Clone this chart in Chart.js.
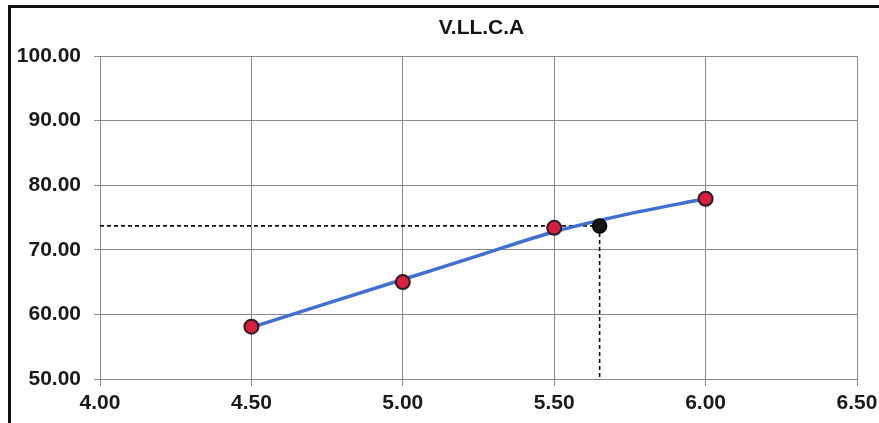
<!DOCTYPE html>
<html>
<head>
<meta charset="utf-8">
<script src="https://cdn.jsdelivr.net/npm/chart.js@4"></script>
<style>
  html, body { margin: 0; padding: 0; background: #fff; }
  #wrap { position: relative; width: 879px; height: 423px; overflow: hidden; }
  #frame { position: absolute; left: 8px; top: 5px; right: -4px; bottom: -10px;
           border-left: 3px solid #111; border-top: 3px solid #111; }
  #holder { position: absolute; left: 0; top: 0; width: 879px; height: 423px; }
</style>
</head>
<body>
<div id="wrap">
  <div id="frame"></div>
  <div id="holder"><canvas id="chart" width="879" height="423"></canvas></div>
</div>
<script>
// Measured points
const measuredX = [4.5, 5.0, 5.5, 6.0];
const measuredY = [58.1, 65.0, 73.4, 77.9];

// Smooth trend curve through the measurements
const trendX = [4.5, 4.75, 5.0, 5.25, 5.5, 5.75, 6.0];
const trendY = [58.0, 61.7, 65.4, 69.1, 72.8, 75.6, 77.9];

// Read-off point and its guide lines
const readX = 5.65;
const readY = 73.7;

const xTicks = [4.0, 4.5, 5.0, 5.5, 6.0, 6.5];
const yTicks = [50, 60, 70, 80, 90, 100];

const chartTitle = 'V.LL.C.A';

const toPoints = (xs, ys) => xs.map((x, i) => ({ x: x, y: ys[i] }));

const tickFont = { family: 'Liberation Sans, Arial, sans-serif', size: 21, weight: 'bold' };

// Title centred over the plotting area
const plotTitle = {
  id: 'plotTitle',
  afterDraw(chart) {
    const { ctx, chartArea } = chart;
    ctx.save();
    ctx.font = 'bold 21px "Liberation Sans", Arial, sans-serif';
    ctx.fillStyle = '#151515';
    ctx.textAlign = 'center';
    ctx.textBaseline = 'middle';
    ctx.fillText(chartTitle, (chartArea.left + chartArea.right) / 2 + 3, 28);
    ctx.restore();
  }
};

new Chart(document.getElementById('chart'), {
  type: 'scatter',
  data: {
    datasets: [
      {
        label: 'guide-h',
        data: [{ x: xTicks[0], y: readY }, { x: readX, y: readY }],
        showLine: true, borderColor: '#111', borderWidth: 1.6, borderDash: [4, 3],
        pointRadius: 0, order: 5
      },
      {
        label: 'guide-v',
        data: [{ x: readX, y: readY }, { x: readX, y: yTicks[0] }],
        showLine: true, borderColor: '#111', borderWidth: 1.6, borderDash: [4, 3],
        pointRadius: 0, order: 5
      },
      {
        label: 'trend',
        data: toPoints(trendX, trendY),
        showLine: true, borderColor: '#3f6fd0', borderWidth: 3.5,
        cubicInterpolationMode: 'monotone', pointRadius: 0, order: 3
      },
      {
        label: chartTitle,
        data: toPoints(measuredX, measuredY),
        backgroundColor: '#d8203c', borderColor: '#2a1a28', borderWidth: 2,
        pointRadius: 7, order: 2
      },
      {
        label: 'read',
        data: [{ x: readX, y: readY }],
        backgroundColor: '#151515', borderColor: '#000', borderWidth: 1.5,
        pointRadius: 7, order: 1
      }
    ]
  },
  plugins: [plotTitle],
  options: {
    responsive: false,
    animation: false,
    layout: { padding: { left: 0, right: 0, top: 56, bottom: 0 } },
    plugins: {
      legend: { display: false },
      tooltip: { enabled: false },
      title: { display: false }
    },
    scales: {
      x: {
        type: 'linear',
        min: xTicks[0], max: xTicks[xTicks.length - 1],
        afterBuildTicks: (s) => { s.ticks = xTicks.map(v => ({ value: v })); },
        afterFit: (s) => { s.height = 44; s.paddingRight = 22; s.paddingLeft = 0; },
        ticks: {
          color: '#1a1a1a', font: tickFont, padding: 5, maxRotation: 0,
          callback: (v) => Number(v).toFixed(2)
        },
        grid: { color: '#8a8a8a', lineWidth: 1, tickLength: 7, drawTicks: true },
        border: { color: '#8a8a8a', width: 1 }
      },
      y: {
        type: 'linear',
        min: yTicks[0], max: yTicks[yTicks.length - 1],
        afterBuildTicks: (s) => { s.ticks = yTicks.map(v => ({ value: v })); },
        afterFit: (s) => { s.width = 100; s.paddingTop = 0; s.paddingBottom = 0; },
        ticks: {
          color: '#1a1a1a', font: tickFont, padding: 13,
          callback: (v) => Number(v).toFixed(2)
        },
        grid: { color: '#8a8a8a', lineWidth: 1, tickLength: 6, drawTicks: true },
        border: { color: '#8a8a8a', width: 1 }
      }
    }
  }
});
</script>
</body>
</html>
